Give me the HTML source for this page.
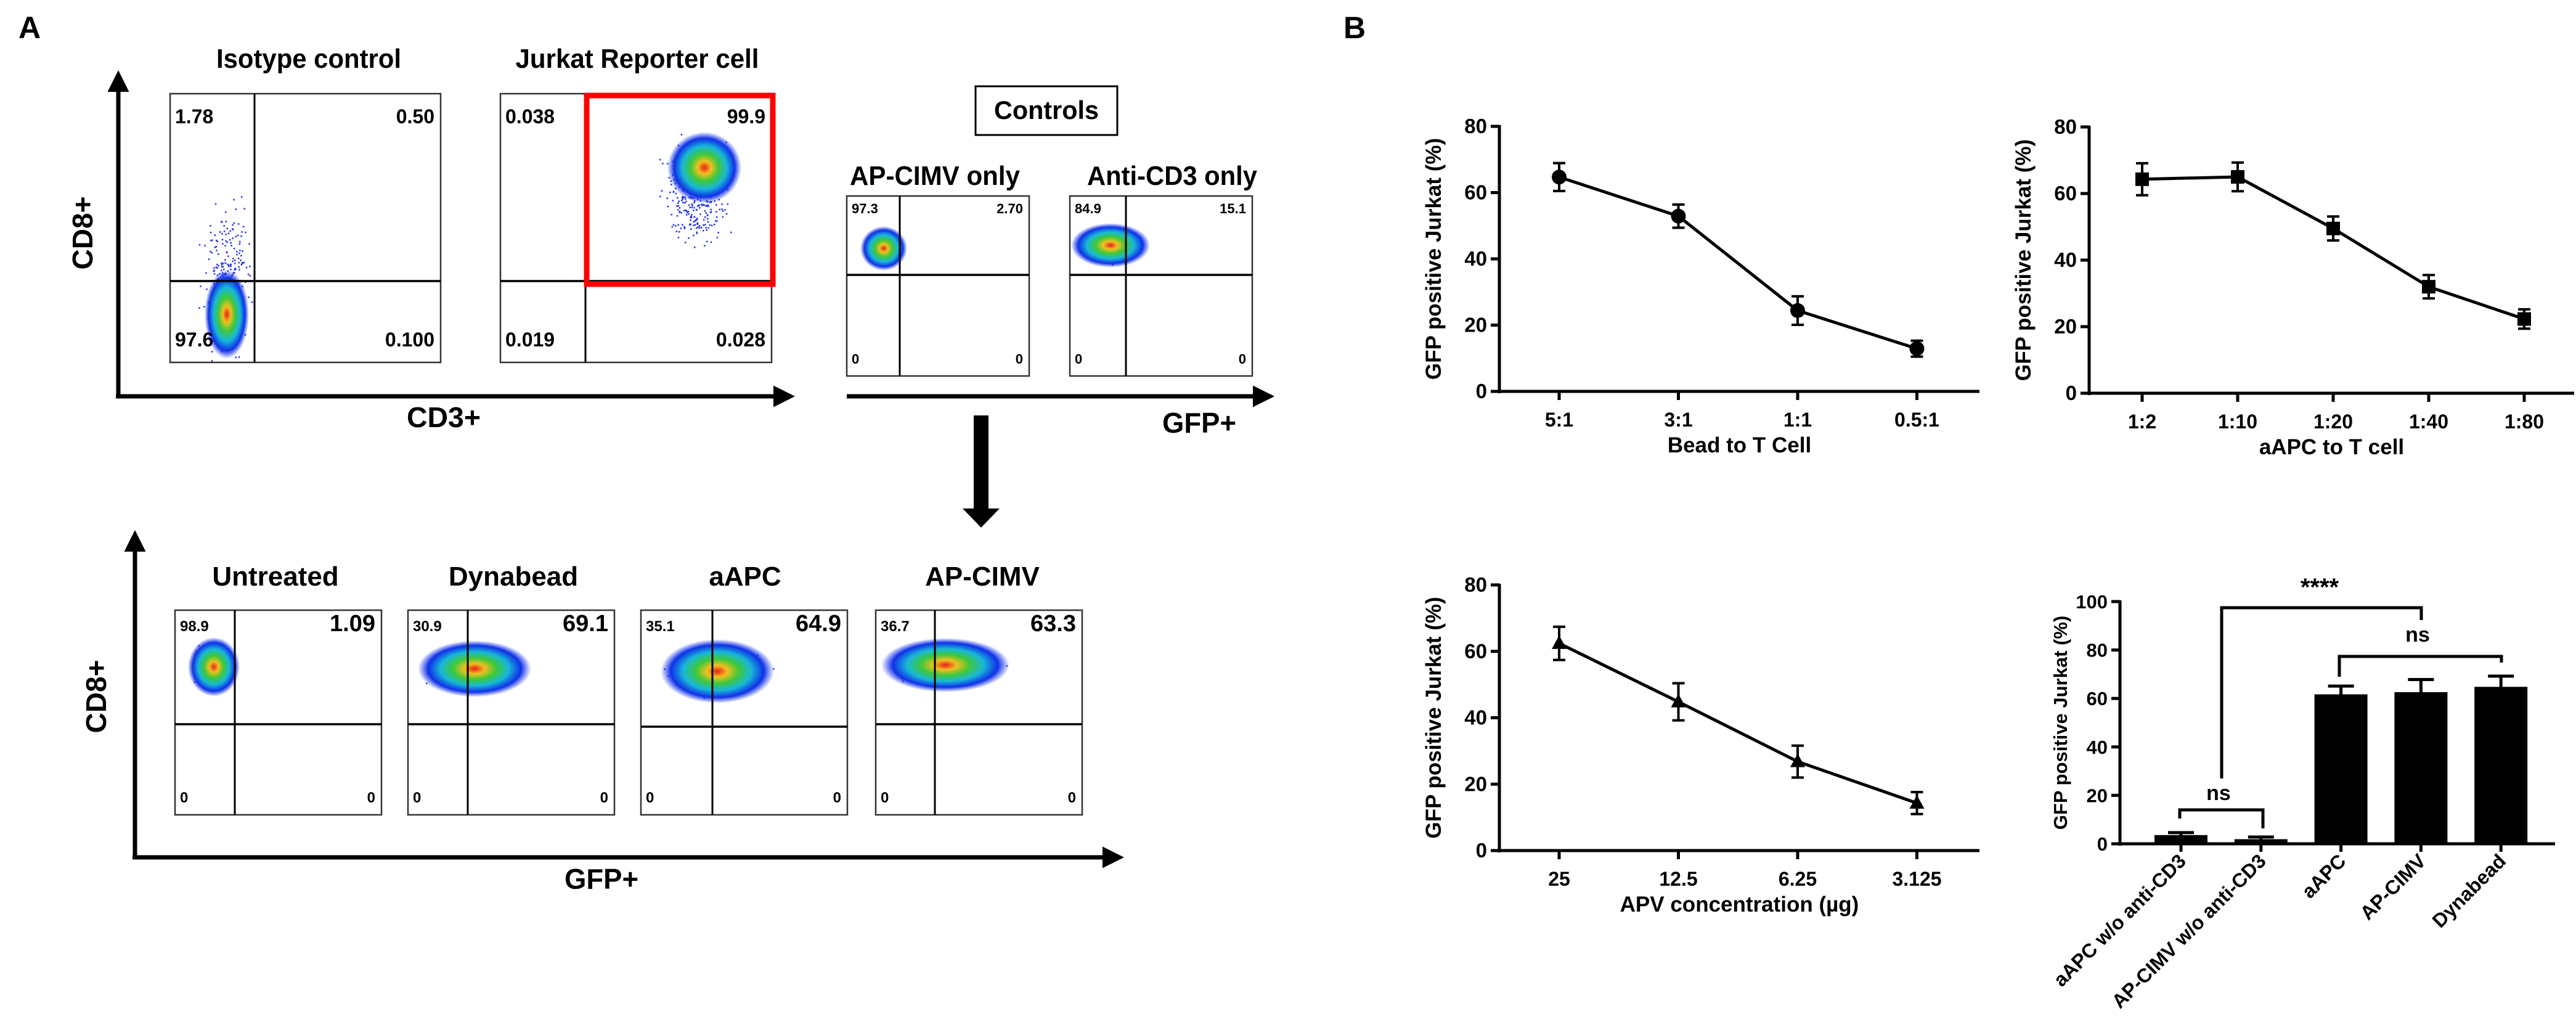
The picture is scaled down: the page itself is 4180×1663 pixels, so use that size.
<!DOCTYPE html>
<html><head><meta charset="utf-8"><style>
html,body{margin:0;padding:0;background:#fff}
svg{display:block}
text{font-family:"Liberation Sans",Arial,sans-serif;font-weight:bold;fill:#000}
</style></head><body>
<svg id="root" width="4180" height="1663" viewBox="0 0 4180 1663" xmlns="http://www.w3.org/2000/svg">
<defs>
<radialGradient id="heat" cx="50%" cy="50%" r="50%">
<stop offset="0" stop-color="#e8201a"/>
<stop offset="0.18" stop-color="#f0c020"/>
<stop offset="0.38" stop-color="#3ec83a"/>
<stop offset="0.6" stop-color="#18b8d8"/>
<stop offset="0.82" stop-color="#1030e8"/>
<stop offset="1" stop-color="#1030e8" stop-opacity="0"/>
</radialGradient>
<marker id="arr" viewBox="0 0 10 10" refX="2" refY="5" markerWidth="5" markerHeight="5" orient="auto"><path d="M0,0L10,5L0,10z" fill="#000"/></marker>
</defs>
<g id="panelA"></g>
<g id="panelB"></g>
</svg>
<script>
// ---- Chart data (panel B) ----
const beadCats = ["5:1","3:1","1:1","0.5:1"];
const beadVals = [64.7, 52.9, 24.4, 12.9];
const beadErr = [4.2, 3.5, 4.3, 2.4];
const aapcCats = ["1:2","1:10","1:20","1:40","1:80"];
const aapcVals = [64.3, 65.0, 49.5, 32.0, 22.3];
const aapcErr = [4.8, 4.3, 3.6, 3.5, 2.9];
const apvCats = ["25","12.5","6.25","3.125"];
const apvVals = [62.4, 44.8, 26.8, 14.3];
const apvErr = [5.0, 5.6, 4.8, 3.3];
const barCats = ["aAPC w/o anti-CD3","AP-CIMV w/o anti-CD3","aAPC","AP-CIMV","Dynabead"];
const barVals = [3.6, 1.9, 61.7, 62.6, 64.8];
const barErr = [1.0, 0.9, 3.4, 5.2, 4.4];
const lineTicks = [0,20,40,60,80];
const barTicks = [0,20,40,60,80,100];

const NS="http://www.w3.org/2000/svg";
function mk(parent,tag,attrs,txt){const e=document.createElementNS(NS,tag);for(const k in attrs)e.setAttribute(k,attrs[k]);if(txt!==undefined)e.textContent=txt;parent.appendChild(e);return e;}
const A=document.getElementById('panelA'), B=document.getElementById('panelB');

// ---------- Panel A ----------
let t;
t=mk(A,'text',{x:30,y:62,'font-size':50},'A');


t=mk(B,'text',{x:2180,y:62,'font-size':50},'B');



function line(p,x1,y1,x2,y2,w,name,col){const l=mk(p,'line',{x1,y1,x2,y2,stroke:col||'#000','stroke-width':w});return l;}
function label(p,x,y,s,size,anchor,name,len){const a={x,y,'font-size':size,'text-anchor':anchor||'start'};if(len){a.textLength=len;a.lengthAdjust='spacingAndGlyphs';}const e=mk(p,'text',a,s);return e;}

// axes arrows
function arrowAxis(x1,y1,x2,y2,name){const l=line(A,x1,y1,x2,y2,7,name);l.setAttribute('marker-end','url(#arr)');}
arrowAxis(192,643,192,142,'y-axis-cd8-top');
arrowAxis(188,643,1262,643,'x-axis-cd3');
arrowAxis(1374,643,2040,643,'x-axis-gfp-controls');
arrowAxis(219,1391,219,888,'y-axis-cd8-bottom');
arrowAxis(215,1391,1796,1391,'x-axis-gfp-bottom');
let v=label(A,0,0,'CD8+',46,'middle','y-axis-title-cd8-top');v.setAttribute('transform','translate(150,378) rotate(-90)');
v=label(A,0,0,'CD8+',46,'middle','y-axis-title-cd8-bottom');v.setAttribute('transform','translate(172,1130) rotate(-90)');
label(A,720,693,'CD3+',46,'middle','x-axis-title-cd3',120);
label(A,1946,702,'GFP+',46,'middle','x-axis-title-gfp-controls',120);
label(A,976,1442,'GFP+',46,'middle','x-axis-title-gfp-bottom',120);

// down arrow
let r=mk(A,'rect',{x:1580,y:674,width:24,height:160,fill:'#000'});


let pth=mk(A,'path',{d:'M1562,825 L1622,825 L1592,856 Z',fill:'#000'});



// controls box
r=mk(A,'rect',{x:1583,y:140,width:230,height:79,fill:'none',stroke:'#000','stroke-width':3});


label(A,1698,193,'Controls',42,'middle','controls-label',170);

// seeded RNG for scatter texture
let seed=12345;function rnd(){seed=(seed*1103515245+12345)%2147483648;return seed/2147483648;}
function gauss(){return (rnd()+rnd()+rnd()+rnd()-2)/2;}

function flowPlot(o){
  const g=mk(A,'g',{});
  
  
  const tt=label(g,o.tx,o.ty,o.title,o.tsize,'middle',o.name+'-title',o.tlen);
  r=mk(g,'rect',{x:o.x,y:o.y,width:o.w,height:o.h,fill:'#fff',stroke:'#333','stroke-width':2.5});
  
  
  // scatter
  const sc=mk(g,'g',{});
  
  
  for(let i=0;i<o.nd;i++){const dx=gauss()*o.srx*2,dy=gauss()*o.sry*2;mk(sc,'rect',{x:o.cx+dx+(o.ox||0),y:o.cy+dy+(o.oy||0),width:2.5,height:2.5,fill:'#2030ee'});}
  const el=mk(sc,'ellipse',{cx:o.cx,cy:o.cy,rx:o.rx,ry:o.ry,fill:'url(#heat)'});
  
  
  line(g,o.vx,o.y,o.vx,o.y+o.h,3,o.name+'-gate-vertical');
  line(g,o.x,o.hy,o.x+o.w,o.hy,3.5,o.name+'-gate-horizontal');
  const s=o.qs;
  label(g,o.x+8,o.y+o.qy1,o.q[0],s[0],'start',o.name+'-q-ul');
  label(g,o.x+o.w-10,o.y+o.qy1,o.q[1],s[1],'end',o.name+'-q-ur');
  label(g,o.x+8,o.y+o.h-o.qy2,o.q[2],s[2],'start',o.name+'-q-ll');
  label(g,o.x+o.w-10,o.y+o.h-o.qy2,o.q[3],s[3],'end',o.name+'-q-lr');
  return g;
}
flowPlot({name:'isotype-plot',title:'Isotype control',tx:501,ty:110,tsize:44,tlen:300,x:276,y:152,w:439,h:436,vx:413,hy:456,cx:368,cy:510,rx:36,ry:72,nd:260,srx:30,sry:90,oy:-60,q:['1.78','0.50','97.6','0.100'],qs:[32,32,32,32],qy1:48,qy2:26});
flowPlot({name:'jurkat-plot',title:'Jurkat Reporter cell',tx:1034,ty:110,tsize:44,tlen:395,x:812,y:152,w:440,h:436,vx:950,hy:456,cx:1143,cy:272,rx:60,ry:58,nd:320,srx:40,sry:70,oy:40,ox:-15,q:['0.038','99.9','0.019','0.028'],qs:[32,32,32,32],qy1:48,qy2:26});
r=mk(A,'rect',{x:952,y:155,width:302,height:306,fill:'none',stroke:'#f00','stroke-width':9});


flowPlot({name:'ap-cimv-only-plot',title:'AP-CIMV only',tx:1517,ty:300,tsize:44,tlen:276,x:1374,y:318,w:296,h:292,vx:1460,hy:446,cx:1434,cy:403,rx:38,ry:36,nd:60,srx:18,sry:18,q:['97.3','2.70','0','0'],qs:[22,22,22,22],qy1:28,qy2:20});
flowPlot({name:'anti-cd3-only-plot',title:'Anti-CD3 only',tx:1902,ty:300,tsize:44,tlen:276,x:1736,y:318,w:296,h:292,vx:1827,hy:446,cx:1802,cy:398,rx:64,ry:36,nd:90,srx:30,sry:18,q:['84.9','15.1','0','0'],qs:[22,22,22,22],qy1:28,qy2:20});
const bt=[['untreated-plot','Untreated',447,284,381,1175,347,1082,42,48,['98.9','1.09','0','0']],
['dynabead-plot','Dynabead',833,662,759,1175,770,1085,92,46,['30.9','69.1','0','0']],
['aapc-plot','aAPC',1209,1040,1156,1179,1164,1089,92,52,['35.1','64.9','0','0']],
['ap-cimv-plot','AP-CIMV',1594,1421,1517,1175,1534,1079,104,44,['36.7','63.3','0','0']]];
bt.forEach(b=>{flowPlot({name:b[0],title:b[1],tx:b[2],ty:950,tsize:44,x:b[3],y:990,w:335,h:332,vx:b[4],hy:b[5],cx:b[6],cy:b[7],rx:b[8],ry:b[9],nd:120,srx:b[8]*0.6,sry:b[9]*0.5,q:b[10],qs:[24,38,24,24],qy1:[0,1].includes(0)?34:34,qy2:20});});

// ---------- Panel B charts ----------
function lineChart(o){
  const g=mk(B,'g',{});
  
  
  const X0=o.x0,Y0=o.y0,Ytop=o.ytop,ymax=o.ymax;
  const ys=v=>Y0-(v/ymax)*(Y0-Ytop);
  const xs=i=>o.cx0+i*o.step;
  line(g,X0,Ytop-2,X0,Y0+3,5,o.name+'-y-axis');
  line(g,X0-3,Y0,o.xend,Y0,5,o.name+'-x-axis');
  o.ticks.forEach(tv=>{line(g,X0-14,ys(tv),X0,ys(tv),5,o.name+'-y-tick');label(g,X0-20,ys(tv)+11,String(tv),33,'end',o.name+'-y-tick-label');});
  o.cats.forEach((c,i)=>{line(g,xs(i),Y0,xs(i),Y0+14,5,o.name+'-x-tick');label(g,xs(i),Y0+57,c,32,'middle',o.name+'-x-tick-label');});
  label(g,(X0+o.xend)/2,Y0+99,o.xtitle,35,'middle',o.name+'-x-axis-title');
  const yt=label(g,0,0,'GFP positive Jurkat (%)',35,'middle',o.name+'-y-axis-title');
  yt.setAttribute('transform','translate('+(X0-95)+','+((Y0+Ytop)/2)+') rotate(-90)');
  let d='';o.vals.forEach((v,i)=>{d+=(i?'L':'M')+xs(i)+','+ys(v);});
  const pl=mk(g,'path',{d,fill:'none',stroke:'#000','stroke-width':5});
  
  
  o.vals.forEach((v,i)=>{
    const x=xs(i),e=o.err[i];
    line(g,x,ys(v+e),x,ys(v-e),4,o.name+'-error-bar');
    line(g,x-10,ys(v+e),x+10,ys(v+e),4,o.name+'-error-cap');
    line(g,x-10,ys(v-e),x+10,ys(v-e),4,o.name+'-error-cap');
    let m;
    if(o.marker==='circle')m=mk(g,'circle',{cx:x,cy:ys(v),r:12,fill:'#000'});
    else if(o.marker==='square')m=mk(g,'rect',{x:x-11,y:ys(v)-11,width:22,height:22,fill:'#000'});
    else m=mk(g,'path',{d:'M'+x+','+(ys(v)-13)+'L'+(x+12)+','+(ys(v)+9)+'L'+(x-12)+','+(ys(v)+9)+'Z',fill:'#000'});
    
    
  });
}
lineChart({name:'bead-chart',cats:beadCats,vals:beadVals,err:beadErr,x0:2433,y0:635,ytop:205,ymax:80,xend:3212,cx0:2530,step:193.5,ticks:lineTicks,xtitle:'Bead to T Cell',marker:'circle'});
lineChart({name:'aapc-chart',cats:aapcCats,vals:aapcVals,err:aapcErr,x0:3390,y0:638,ytop:206,ymax:80,xend:4177,cx0:3476,step:155,ticks:lineTicks,xtitle:'aAPC to T cell',marker:'square'});
lineChart({name:'apv-chart',cats:apvCats,vals:apvVals,err:apvErr,x0:2433,y0:1380,ytop:949,ymax:80,xend:3212,cx0:2530,step:193.5,ticks:lineTicks,xtitle:'APV concentration (µg)',marker:'triangle'});

// bar chart
(function(){
  const name='condition-bar-chart';
  const g=mk(B,'g',{});
  
  
  const X0=3440,Y0=1369,Ytop=976,ymax=100,xend=4146;
  const ys=v=>Y0-(v/ymax)*(Y0-Ytop);
  const xs=i=>3539+i*129.8;
  barVals.forEach((v,i)=>{
    const x=xs(i),e=barErr[i];
    line(g,x,ys(v),x,ys(v+e),5,name+'-error-bar');
    line(g,x-21,ys(v+e),x+21,ys(v+e),5,name+'-error-cap');
    const b=mk(g,'rect',{x:x-43,y:ys(v),width:86,height:Y0-ys(v),fill:'#000'});
    
    
    line(g,x,Y0,x,Y0+13,5,name+'-x-tick');
    const tl=label(g,0,0,barCats[i],32,'end',name+'-x-tick-label');
    tl.setAttribute('transform','translate('+(x+10)+','+(Y0+30)+') rotate(-45)');
  });
  line(g,X0,Ytop-2,X0,Y0+3,5,name+'-y-axis');
  line(g,X0-3,Y0,xend,Y0,5,name+'-x-axis');
  barTicks.forEach(tv=>{line(g,X0-14,ys(tv),X0,ys(tv),5,name+'-y-tick');label(g,X0-20,ys(tv)+11,String(tv),31,'end',name+'-y-tick-label');});
  const yt=label(g,0,0,'GFP positive Jurkat (%)',31,'middle',name+'-y-axis-title');
  yt.setAttribute('transform','translate(3354,'+((Y0+Ytop)/2)+') rotate(-90)');
  function bracket(x1,x2,y,l1,l2,txt,ty,tx,nm,fs){
    const p=mk(g,'path',{d:'M'+x1+','+l1+'L'+x1+','+y+'L'+x2+','+y+'L'+x2+','+l2,fill:'none',stroke:'#000','stroke-width':5});
    
    
    label(g,tx,ty,txt,fs,'middle',nm+'-label');
  }
  bracket(3605,3929,986,1263,1006,'****',966,3764,'significance-bracket-main',40);
  bracket(3796,4059,1065,1098,1075,'ns',1041,3923,'significance-bracket-ns-high',34);
  bracket(3537,3672,1314,1328,1344,'ns',1298,3600,'significance-bracket-ns-low',34);
})();
</script>
</body></html>
